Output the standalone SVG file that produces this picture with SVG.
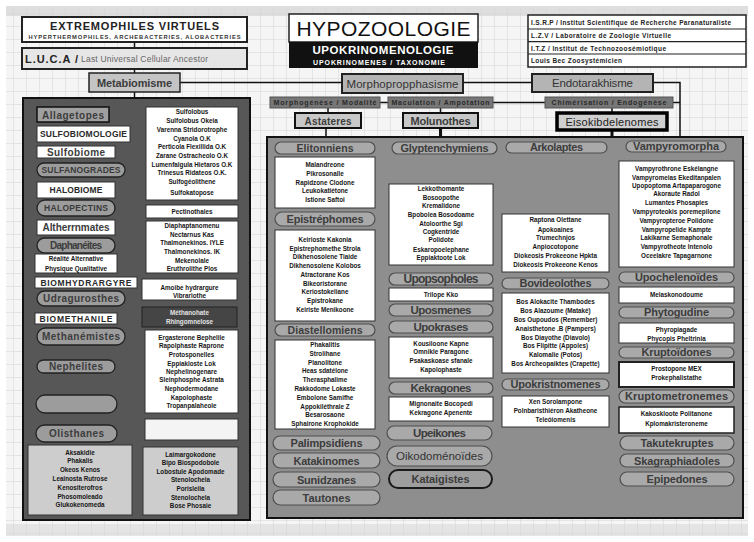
<svg xmlns="http://www.w3.org/2000/svg" width="754" height="542" viewBox="0 0 754 542">
<defs>
<pattern id="grid" width="13" height="13" patternUnits="userSpaceOnUse"><path d="M13 0H0V13" fill="none" stroke="#d4d4d4" stroke-width="1"/></pattern>
<style>
.p{fill:#a9a9a9;stroke:#4e4e4e;stroke-width:1.2}
.pl{fill:#9c9c9c;stroke:#222;stroke-width:1.3}
.b{fill:#fff;stroke:#333;stroke-width:1}
.L{font-family:"Liberation Sans",Arial,sans-serif;font-weight:bold;font-size:11px;fill:#3c3c3c;text-anchor:middle}
.Ls{font-family:"Liberation Sans",Arial,sans-serif;font-weight:bold;font-size:8.5px;fill:#2a2a2a;text-anchor:middle}
.t{font-family:"Liberation Sans",Arial,sans-serif;font-weight:bold;font-size:6.3px;fill:#151515;text-anchor:middle}
.c{fill:none;stroke:#111;stroke-width:1.5}
.ct{fill:none;stroke:#111;stroke-width:3}
</style>
</defs>
<rect width="754" height="542" fill="#fff"/>
<rect x="6" y="6" width="742" height="530" fill="#f5f5f5"/>
<rect x="6" y="6" width="742" height="10" fill="#dedede"/>
<rect x="6" y="524" width="742" height="12" fill="#e4e4e4"/>
<rect x="6" y="6" width="742" height="530" fill="url(#grid)"/>

<g id="connectors">
<path class="c" d="M134.5,42V48M134.5,69V73M134.5,92V98M180,82.5H342M463,82.5H532M653,82.5H680V137M380,102.5H388M493,102.5H545M673,102.5H680M328,108V113M440.5,108V113M612,108V113M326,128V137"/>
<path class="ct" d="M440.5,128V137M612,130V147M607,147H626M440.5,153V184M553,153V214"/>
<path class="c" d="M125,170H146M115,206H133V212H146M115,243H146M117,259H125V243M125,299H130V292H142M125,334H132V316H142M115,367H145M117,408H127V433H145"/>
<path class="ct" d="M132,485H143"/>
<path class="c" style="stroke-width:2.2" d="M441,265V273M441,285V288M441,301V304M441,316V321M441,333V337M441,378V382M441,394V397M441,421V426M441,440V446M553,272V278M553,289V293M553,373V379M553,390V396M677,152V161M677,267V272M677,283V287M677,303V307M677,318V323M677,343V347M677,358V362M677,387V390M677,403V407M677,433V436"/>
</g>

<g id="extremophiles"><rect x="22" y="17" width="225" height="25" fill="#fff" stroke="#222" stroke-width="2"/>
<text x="134.5" y="29.5" font-family="Liberation Sans,Arial,sans-serif" font-weight="900" font-size="11" fill="#222" text-anchor="middle" textLength="169">EXTREMOPHILES VIRTUELS</text>
<text x="134.5" y="38.5" font-family="Liberation Sans,Arial,sans-serif" font-weight="bold" font-size="5.8" fill="#333" text-anchor="middle" textLength="212">HYPERTHERMOPHILES, ARCHEBACTERIES, ALOBACTERIES</text></g>
<g id="luca"><rect x="22" y="48" width="225" height="21" fill="#e6e6e6" stroke="#222" stroke-width="2"/>
<text x="25" y="62.5" font-family="Liberation Sans,Arial,sans-serif" font-weight="900" font-size="11" fill="#222" textLength="53">L.U.C.A /</text>
<text x="81" y="62" font-family="Liberation Sans,Arial,sans-serif" font-size="8.5" fill="#666" textLength="127">Last Universal Cellular Ancestor</text></g>
<g id="metabiomisme"><rect x="89" y="73" width="91" height="19" fill="#c4c4c4" stroke="#222" stroke-width="1.5"/><text class="L" x="134.5" y="86.5" textLength="75">Metabiomisme</text></g>

<g id="hypozoologie"><rect x="289" y="14" width="189" height="28" fill="#fff" stroke="#222" stroke-width="1.5"/>
<text x="383.5" y="36" font-family="Liberation Sans,Arial,sans-serif" font-size="21" fill="#111" text-anchor="middle" textLength="174">HYPOZOOLOGIE</text>
<rect x="289" y="42" width="189" height="26" fill="#111"/>
<text x="383" y="54" font-family="Liberation Sans,Arial,sans-serif" font-weight="bold" font-size="11.5" fill="#fff" text-anchor="middle" textLength="141">UPOKRINOMENOLOGIE</text>
<text x="379" y="64.5" font-family="Liberation Sans,Arial,sans-serif" font-weight="bold" font-size="7" fill="#fff" text-anchor="middle" textLength="132">UPOKRINOMENES / TAXONOMIE</text></g>

<g id="institutions" font-family="Liberation Sans,Arial,sans-serif" font-weight="bold" font-size="6.5" fill="#222">
<rect x="528" y="15" width="218" height="52" fill="#fff" stroke="#222" stroke-width="1.5"/>
<path d="M528,29H746M528,41.7H746M528,54H746" stroke="#222" stroke-width="1.2"/>
<text x="531" y="25" textLength="200">I.S.R.P / Institut Scientifique de Recherche Paranaturaliste</text>
<text x="531" y="38" textLength="140">L.Z.V / Laboratoire de Zoologie Virtuelle</text>
<text x="531" y="50.5" textLength="135">I.T.Z / Institut de Technozoosémiotique</text>
<text x="531" y="63" textLength="91">Louis Bec Zoosystémicien</text></g>

<g id="morphopropphasisme"><rect x="342" y="74" width="121" height="19" fill="#b4b4b4" stroke="#222" stroke-width="2"/><text class="L" x="402.5" y="87.5" style="font-weight:normal;font-size:11.5px;fill:#333" textLength="112">Morphopropphasisme</text></g>
<g id="endotarakhisme"><rect x="532" y="74" width="121" height="18" fill="#b4b4b4" stroke="#222" stroke-width="2"/><text class="L" x="592.5" y="87" style="font-weight:normal;font-size:11.5px;fill:#333" textLength="81">Endotarakhisme</text></g>

<g id="bar-morphogenese"><rect x="270" y="97" width="110" height="11" fill="#777" stroke="#555"/><text class="t" x="325" y="105" style="font-size:7px;fill:#2a2a2a" textLength="103">Morphogénèse / Modalité</text></g>
<g id="bar-maculation"><rect x="388" y="97" width="105" height="11" fill="#777" stroke="#555"/><text class="t" x="440.5" y="105" style="font-size:7px;fill:#2a2a2a" textLength="98">Maculation / Ampotation</text></g>
<g id="bar-chimerisation"><rect x="545" y="97" width="128" height="11" fill="#777" stroke="#555"/><text class="t" x="609" y="105" style="font-size:7px;fill:#2a2a2a" textLength="115">Chimérisation / Endogénèse</text></g>

<g id="astateres"><rect x="295" y="113" width="66" height="15" fill="#c8c8c8" stroke="#111" stroke-width="2"/><text class="L" x="328" y="124.5" style="font-size:10px" textLength="47">Astateres</text></g>
<g id="molunothes"><rect x="403" y="113" width="75" height="15" fill="#c8c8c8" stroke="#111" stroke-width="2"/><text class="L" x="440.5" y="124.5" textLength="60">Molunothes</text></g>
<g id="eisokibdelenomes"><rect x="557" y="113" width="110" height="17" fill="#cfcfcf" stroke="#000" stroke-width="3.5"/><text class="L" x="612" y="125.5" style="font-weight:normal;fill:#222" textLength="93">Eisokibdelenomes</text></g>

<g id="left-panel"><rect x="23" y="98" width="227" height="422" fill="#575757" stroke="#111" stroke-width="2"/></g>
<g id="allagetopes"><rect x="37" y="107" width="72" height="15" fill="#a0a0a0" stroke="#111" stroke-width="1.5"/><text class="L" x="73" y="118.5" style="font-size:10px" textLength="62">Allagetopes</text></g>
<g id="sulfobiomologie"><rect x="37" y="126" width="93" height="16" class="b"/><text class="Ls" x="83.5" y="137.3" textLength="87">SULFOBIOMOLOGIE</text></g>
<g id="sulfobiome"><rect x="37" y="146" width="78" height="12" class="b"/><text class="L" x="76" y="155.8" style="font-size:10px" textLength="58">Sulfobiome</text></g>
<g id="sulfanogrades"><rect x="37" y="163" width="88" height="14" rx="7" class="pl"/><text class="Ls" x="81" y="173.2" style="fill:#3a3a3a" textLength="79">SULFANOGRADES</text></g>
<g id="halobiome"><rect x="37" y="182" width="78" height="16" class="b"/><text class="Ls" x="76" y="193.2" textLength="53">HALOBIOME</text></g>
<g id="halopectins"><rect x="37" y="200" width="78" height="16" rx="8" class="pl"/><text class="Ls" x="76" y="211.2" style="fill:#3a3a3a" textLength="64">HALOPECTINS</text></g>
<g id="altherrnmates"><rect x="37" y="220" width="78" height="15" class="b"/><text class="L" x="76" y="231" style="font-size:10px" textLength="67">Altherrnmates</text></g>
<g id="daphaneites"><rect x="37" y="238" width="78" height="15" rx="7.5" class="pl"/><text class="L" x="76" y="249" style="font-size:10px" textLength="52">Daphanéites</text></g>
<g id="realite"><rect x="35" y="254" width="82" height="19" class="b"/><text class="t" x="76" y="261.2">Réalité Alternative</text><text class="t" x="76" y="270.5">Physique Qualitative</text></g>
<g id="biomhydrargyre"><rect x="35" y="277" width="102" height="11" class="b"/><text class="Ls" x="86" y="285.8" textLength="91">BIOMHYDRARGYRE</text></g>
<g id="udragurosthes"><rect x="37" y="291" width="88" height="15" rx="7.5" class="pl"/><text class="L" x="81" y="302.2" style="font-size:10px" textLength="76">Udragurosthes</text></g>
<g id="biomethanile"><rect x="35" y="313" width="82" height="11" class="b"/><text class="Ls" x="76" y="321.8" textLength="73">BIOMETHANILE</text></g>
<g id="methanemistes"><rect x="37" y="328" width="88" height="17" rx="8.5" class="pl"/><text class="L" x="81" y="340" style="font-size:10px" textLength="78">Methanémistes</text></g>
<g id="nephelites"><rect x="37" y="360" width="78" height="13" rx="6.5" class="pl"/><text class="L" x="76" y="370.2" style="font-size:10px" textLength="54">Nephelites</text></g>
<g id="empty-pill"><rect x="36" y="395" width="81" height="18" rx="9" class="pl"/></g>
<g id="olisthanes"><rect x="36" y="425" width="81" height="17" rx="8.5" class="pl"/><text class="L" x="76.5" y="437.2" style="font-size:10px" textLength="55">Olisthanes</text></g>

<g id="sulfolobus"><rect x="146" y="107" width="92" height="93" class="b"/>
<text class="t" x="192" y="114">Sulfolobus</text><text class="t" x="192" y="123">Sulfolobus Okeia</text><text class="t" x="192" y="131.5">Varenna Stridorotrophe</text><text class="t" x="192" y="140.5">Cyanola O.K</text><text class="t" x="192" y="149">Perticola Flexillida O.K</text><text class="t" x="192" y="158">Zarane Ostracheolo O.K</text><text class="t" x="192" y="166.5">Lumenfalgula Hietaros O.K</text><text class="t" x="192" y="174.5">Trinesus Ridateos O.K.</text><text class="t" x="192" y="184">Sulfogéolithene</text><text class="t" x="192" y="194.5">Sulfokatopose</text></g>
<g id="pectinothales"><rect x="146" y="205" width="92" height="13" class="b"/><text class="t" x="192" y="213.7">Pectinothales</text></g>
<g id="diaphaptanomenu"><rect x="146" y="221" width="92" height="52" class="b"/>
<text class="t" x="192" y="228.2">Diaphaptanomenu</text><text class="t" x="192" y="236.5">Nectarnus Kas</text><text class="t" x="192" y="245">Thalmonekinos. IYLE</text><text class="t" x="192" y="254">Thalmonekinos. IK</text><text class="t" x="192" y="263">Mekenolale</text><text class="t" x="192" y="271.3">Eruthrolithe Plos</text></g>
<g id="amoibe"><rect x="142" y="279" width="95" height="21" class="b"/><text class="t" x="189.5" y="289.5">Amoibe hydrargure</text><text class="t" x="189.5" y="298">Vibrariothe</text></g>
<g id="methanohate"><rect x="142" y="307" width="95" height="20" fill="#454545" stroke="#222"/><text class="t" x="189.5" y="315" style="fill:#e4e4e4">Méthanohate</text><text class="t" x="189.5" y="323.5" style="fill:#e4e4e4">Rhingomnelose</text></g>
<g id="ergasterone"><rect x="145" y="330" width="93" height="83" class="b"/>
<text class="t" x="191.5" y="339.5">Ergasterone Bephelile</text><text class="t" x="191.5" y="348.2">Rapolphaste Raprone</text><text class="t" x="191.5" y="356.5">Protosponelles</text><text class="t" x="191.5" y="365.5">Eppiakloste Lok</text><text class="t" x="191.5" y="374">Nephelinogenare</text><text class="t" x="191.5" y="382.2">Sleinphosphe Astrata</text><text class="t" x="191.5" y="391">Nephodermodane</text><text class="t" x="191.5" y="399.5">Kapolophaste</text><text class="t" x="191.5" y="408.2">Tropanpalaheole</text></g>
<g id="empty-box"><rect x="145" y="419" width="93" height="21" fill="#f4f4f4" stroke="#333"/></g>
<g id="box-bl"><rect x="28" y="445" width="104" height="70" fill="#cdcdcd" stroke="#333"/>
<text class="t" x="80" y="455">Aksakidie</text><text class="t" x="80" y="463.2">Phakalis</text><text class="t" x="80" y="472.2">Okeos Kenos</text><text class="t" x="80" y="481.2">Leainosta Rutrose</text><text class="t" x="80" y="490">Kenositerofros</text><text class="t" x="80" y="499">Phosomoleado</text><text class="t" x="80" y="507.2">Glukokenomeda</text></g>
<g id="box-br"><rect x="143" y="447" width="95" height="68" fill="#cdcdcd" stroke="#333"/>
<text class="t" x="190.5" y="457.2">Laimargokodone</text><text class="t" x="190.5" y="465">Bipo Biospodobole</text><text class="t" x="190.5" y="474">Lobostule Apodomade</text><text class="t" x="190.5" y="482.2">Stenolochela</text><text class="t" x="190.5" y="491.2">Porisleila</text><text class="t" x="190.5" y="499.5">Stenolochela</text><text class="t" x="190.5" y="508.2">Bose Phosaie</text></g>

<g id="right-panel"><rect x="267" y="137" width="476" height="381" fill="#8e8e8e" stroke="#111" stroke-width="2"/></g>

<g id="elitonniens"><rect x="275" y="142" width="100" height="12" rx="6" class="p"/><text class="L" x="325" y="151.8" style="font-size:10.5px" textLength="57">Elitonniens</text></g>
<g id="elitonniens-box"><rect x="275" y="157" width="100" height="51" class="b"/>
<text class="t" x="325" y="167.2">Malandreone</text><text class="t" x="325" y="175.5">Pikrosonalle</text><text class="t" x="325" y="184.5">Rapidzone Clodone</text><text class="t" x="325" y="193">Leukokatiétone</text><text class="t" x="325" y="201.5">Istione Saftoi</text></g>
<g id="epistrephomes"><rect x="275" y="212" width="100" height="14" rx="7" class="p"/><text class="L" x="325" y="222.8" textLength="77">Epistréphomes</text></g>
<g id="epistrephomes-box"><rect x="275" y="230" width="100" height="91" class="b"/>
<text class="t" x="325" y="241.5">Keirioste Kakonia</text><text class="t" x="325" y="250.5">Epistrephomethe Strola</text><text class="t" x="325" y="259">Dikhenosolene Tiaide</text><text class="t" x="325" y="268">Dikhenosolene Kolobos</text><text class="t" x="325" y="276.5">Atractorane Kos</text><text class="t" x="325" y="285.5">Bikeoristorane</text><text class="t" x="325" y="294">Keriostokeliane</text><text class="t" x="325" y="303">Epistrokane</text><text class="t" x="325" y="311.5">Keiriste Menikoone</text></g>
<g id="diastellomiens"><rect x="275" y="324" width="100" height="12" rx="6" class="p"/><text class="L" x="325" y="333.8" style="font-size:10.5px" textLength="75">Diastellomiens</text></g>
<g id="diastellomiens-box"><rect x="275" y="340" width="100" height="89" class="b"/>
<text class="t" x="325" y="347.2">Phakalitis</text><text class="t" x="325" y="355.5">Strolihane</text><text class="t" x="325" y="365">Planolitone</text><text class="t" x="325" y="373.2">Heas sdatélone</text><text class="t" x="325" y="382.2">Therasphalime</text><text class="t" x="325" y="391.2">Rakkodome Lokaste</text><text class="t" x="325" y="400">Embolone Samifhe</text><text class="t" x="325" y="409">Appokiléthrale Z</text><text class="t" x="325" y="417.2">Besarosaone</text><text class="t" x="325" y="425.5">Sphairone Krophokide</text></g>
<g id="palimpsidiens"><rect x="273" y="436" width="107" height="14" rx="7" class="p"/><text class="L" x="326.5" y="447" textLength="72">Palimpsidiens</text></g>
<g id="katakinomes"><rect x="273" y="453" width="107" height="15" rx="7.5" class="p"/><text class="L" x="326.5" y="464.5" textLength="66">Katakinomes</text></g>
<g id="sunidzanes"><rect x="273" y="472" width="107" height="15" rx="7.5" class="p"/><text class="L" x="326.5" y="483.5" textLength="59">Sunidzanes</text></g>
<g id="tautones"><rect x="273" y="490" width="107" height="15" rx="7.5" class="p"/><text class="L" x="326.5" y="501.5" textLength="48">Tautones</text></g>

<g id="glyptenchymiens"><rect x="392" y="142" width="105" height="12" rx="6" class="p"/><text class="L" x="444.5" y="151.8" textLength="88">Glyptenchymiens</text></g>
<g id="glyptenchymiens-box"><rect x="389" y="184" width="104" height="81" class="b"/>
<text class="t" x="441" y="191.2">Lekkothomante</text><text class="t" x="441" y="199.5">Bosoopothe</text><text class="t" x="441" y="208.2">Kremalidone</text><text class="t" x="441" y="217.2">Bpobolea Bosodoame</text><text class="t" x="441" y="225.5">Atoloorthe Sgi</text><text class="t" x="441" y="234">Cogkentride</text><text class="t" x="441" y="242.2">Polidote</text><text class="t" x="441" y="251.5">Eskaropoelephane</text><text class="t" x="441" y="260">Eppiaktoote Lok</text></g>
<g id="upopsopholes"><rect x="389" y="273" width="104" height="12" rx="6" class="p"/><text class="L" x="441" y="283" style="font-size:12px" textLength="75">Upopsopholes</text></g>
<g id="trilope"><rect x="389" y="288" width="104" height="13" class="b"/><text class="t" x="441" y="296.5">Trilope Kko</text></g>
<g id="uposmenes"><rect x="389" y="304" width="104" height="12" rx="6" class="p"/><text class="L" x="441" y="314" style="font-size:11.5px" textLength="61">Uposmenes</text></g>
<g id="upokrases"><rect x="389" y="321" width="104" height="12" rx="6" class="p"/><text class="L" x="441" y="331" style="font-size:11.5px" textLength="55">Upokrases</text></g>
<g id="upokrases-box"><rect x="389" y="337" width="104" height="41" class="b"/>
<text class="t" x="441" y="345.5">Kousiloone Kapne</text><text class="t" x="441" y="354.2">Omnikle Paragone</text><text class="t" x="441" y="363">Psakaskoase sfanale</text><text class="t" x="441" y="371.5">Kapolophaste</text></g>
<g id="kekragones"><rect x="389" y="382" width="104" height="12" rx="6" class="p"/><text class="L" x="441" y="392" style="font-size:11.5px" textLength="61">Kekragones</text></g>
<g id="kekragones-box"><rect x="389" y="397" width="104" height="24" class="b"/><text class="t" x="441" y="406.2">Mignonaite Bocopedi</text><text class="t" x="441" y="415">Kekragone Apenente</text></g>
<g id="upeikones"><rect x="387" y="426" width="105" height="14" rx="7" class="p"/><text class="L" x="439.5" y="437" style="font-size:11.5px" textLength="53">Upeikones</text></g>
<g id="oikodomenoides"><rect x="387" y="446" width="105" height="20" rx="10" class="p"/><text class="L" x="439.5" y="460" style="font-weight:normal;font-size:11.5px;fill:#333" textLength="87">Oikodoménoïdes</text></g>
<g id="kataigistes"><rect x="389" y="470" width="103" height="18" rx="9" fill="#9e9e9e" stroke="#1a1a1a" stroke-width="2"/><text class="L" x="440.5" y="483" textLength="58">Kataigistes</text></g>

<g id="arkolaptes"><rect x="506" y="142" width="101" height="11" rx="5.5" class="p"/><text class="L" x="556.5" y="151.3" textLength="53">Arkolaptes</text></g>
<g id="arkolaptes-box"><rect x="502" y="214" width="107" height="58" class="b"/>
<text class="t" x="555.5" y="222.2">Raptona Olettane</text><text class="t" x="555.5" y="231.5">Apokoaines</text><text class="t" x="555.5" y="240.2">Trumechnjos</text><text class="t" x="555.5" y="249">Anpiocotopone</text><text class="t" x="555.5" y="257.5">Diokeosis Prokeeone Hpkta</text><text class="t" x="555.5" y="266.5">Diokeosis Prokeeone Kenos</text></g>
<g id="bovideolothes"><rect x="502" y="278" width="107" height="11" rx="5.5" class="p"/><text class="L" x="555.5" y="287.3" textLength="72">Bovideolothes</text></g>
<g id="bovideolothes-box"><rect x="502" y="293" width="107" height="80" class="b"/>
<text class="t" x="555.5" y="304">Bos Alokacite Thambodes</text><text class="t" x="555.5" y="313.2">Bos Alazoume (Mataké)</text><text class="t" x="555.5" y="322.2">Bos Oupoudos (Remember)</text><text class="t" x="555.5" y="331.2">Anaisthetone .B (Pampers)</text><text class="t" x="555.5" y="339.5">Bos Diayothe (Diavolo)</text><text class="t" x="555.5" y="348.2">Bos Flipitte (Appoles)</text><text class="t" x="555.5" y="356.5">Kalomalie (Potos)</text><text class="t" x="555.5" y="365.5">Bos Archeopaiktes (Crapette)</text></g>
<g id="upokristnomenes"><rect x="502" y="379" width="107" height="11" rx="5.5" class="p"/><text class="L" x="555.5" y="388.3" textLength="90">Upokristnomenes</text></g>
<g id="upokristnomenes-box"><rect x="502" y="396" width="107" height="31" class="b"/>
<text class="t" x="555.5" y="404">Xen Sorolampone</text><text class="t" x="555.5" y="413">Polnbaristhiéron Akatheone</text><text class="t" x="555.5" y="421.5">Teleóiomenis</text></g>

<g id="vampyromorpha"><rect x="626" y="141" width="100" height="11" rx="5.5" class="p"/><text class="L" x="676" y="150.3" textLength="86">Vampyromorpha</text></g>
<g id="vampyromorpha-box"><rect x="619" y="161" width="115" height="106" class="b"/>
<text class="t" x="676.5" y="170.5">Vampyrothrone Eskélangne</text><text class="t" x="676.5" y="179.5">Vampyromeias Ekeditanpalen</text><text class="t" x="676.5" y="188.2">Upopoptoma Artapaparogone</text><text class="t" x="676.5" y="196.2">Akoraute Radol</text><text class="t" x="676.5" y="205">Lumantes Phosapies</text><text class="t" x="676.5" y="214">Vampyroteokis poremepilone</text><text class="t" x="676.5" y="223">Vampyropteroe Polidone</text><text class="t" x="676.5" y="231.5">Vampyropelide Kampte</text><text class="t" x="676.5" y="240">Lakikarne Semaphonale</text><text class="t" x="676.5" y="249">Vampyrotheote Intenolo</text><text class="t" x="676.5" y="257.5">Oceelakre Tapagarnone</text></g>
<g id="upochelenoides"><rect x="619" y="272" width="115" height="11" rx="5.5" class="p"/><text class="L" x="676.5" y="281.3" textLength="83">Upochelenoïdes</text></g>
<g id="melaskonodoume"><rect x="619" y="287" width="115" height="16" class="b"/><text class="t" x="676.5" y="297.3">Melaskonodoume</text></g>
<g id="phytogudine"><rect x="619" y="307" width="115" height="11" rx="5.5" class="p"/><text class="L" x="676.5" y="316.3" textLength="65">Phytogudine</text></g>
<g id="phytogudine-box"><rect x="619" y="323" width="115" height="20" class="b"/><text class="t" x="676.5" y="331.5">Phyropiagade</text><text class="t" x="676.5" y="340.5">Phycopis Pheltrinia</text></g>
<g id="kruptoidones"><rect x="619" y="347" width="115" height="11" rx="5.5" class="p"/><text class="L" x="676.5" y="356.3" textLength="70">Kruptoïdones</text></g>
<g id="kruptoidones-box"><rect x="619" y="362" width="115" height="25" fill="#fff" stroke="#222" stroke-width="2"/><text class="t" x="676.5" y="370.5">Prostopone MEX</text><text class="t" x="676.5" y="379.5">Prokephalistathe</text></g>
<g id="kruptometronemes"><rect x="619" y="390" width="115" height="13" rx="6.5" class="p"/><text class="L" x="676.5" y="400.3" textLength="103">Kruptometronemes</text></g>
<g id="kruptometronemes-box"><rect x="619" y="407" width="115" height="26" fill="#fff" stroke="#222" stroke-width="1.5"/><text class="t" x="676.5" y="416.2">Kakoskloote Politanone</text><text class="t" x="676.5" y="425.5">Kplomakristeroneme</text></g>
<g id="takutekruptes"><rect x="620" y="436" width="114" height="14" rx="7" class="p"/><text class="L" x="677" y="447" textLength="73">Takutekruptes</text></g>
<g id="skagraphiadoles"><rect x="620" y="454" width="114" height="13" rx="6.5" class="p"/><text class="L" x="677" y="464.5" textLength="86">Skagraphiadoles</text></g>
<g id="epipedones"><rect x="620" y="472" width="114" height="14" rx="7" class="p"/><text class="L" x="677" y="483" textLength="61">Epipedones</text></g>
</svg>
